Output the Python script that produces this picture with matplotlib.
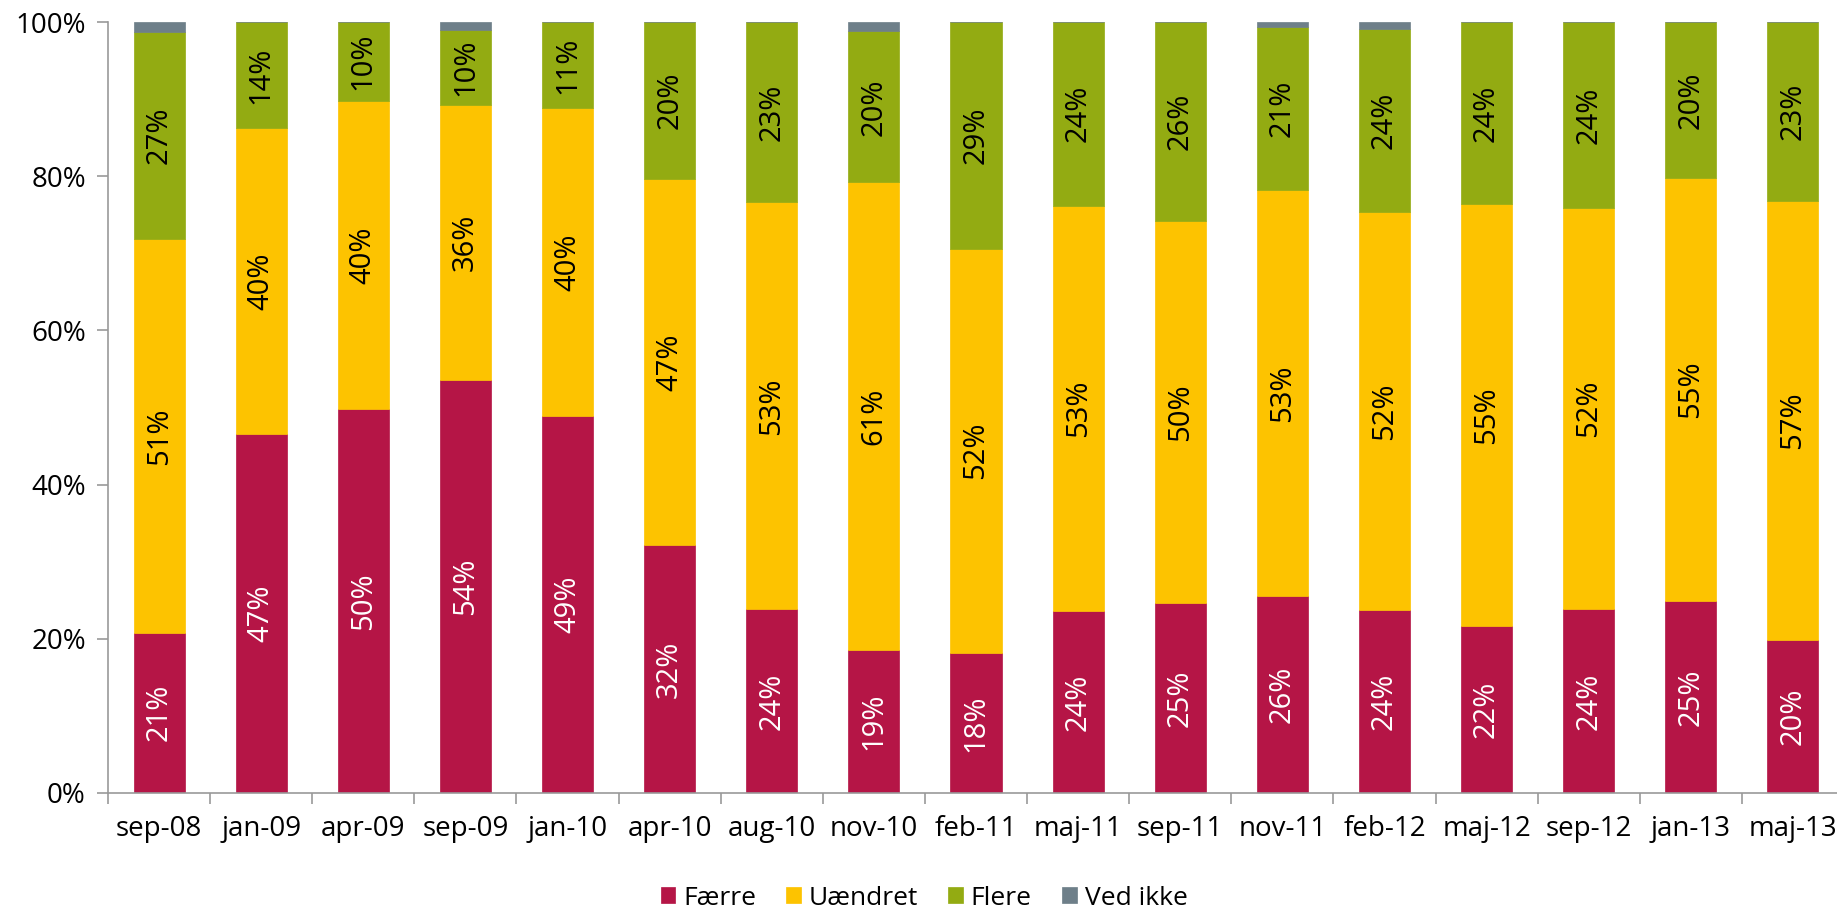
import matplotlib
matplotlib.use("Agg")
import matplotlib.pyplot as plt
import numpy as np

plt.rcParams['font.family'] = ['Open Sans', 'DejaVu Sans']

periods = ["sep-08", "jan-09", "apr-09", "sep-09", "jan-10", "apr-10", "aug-10", "nov-10", "feb-11",
           "maj-11", "sep-11", "nov-11", "feb-12", "maj-12", "sep-12", "jan-13", "maj-13"]
faerre   = [20.8, 46.6, 49.8, 53.6, 48.9, 32.2, 23.8, 18.6, 18.2, 23.6, 24.6, 25.6, 23.7, 21.6, 23.8, 24.9, 19.9]
uaendret = [51.0, 39.6, 39.9, 35.6, 39.9, 47.4, 52.8, 60.6, 52.4, 52.6, 49.6, 52.6, 51.6, 54.8, 52.1, 54.9, 56.9]
flere    = [26.9, 13.8, 10.3,  9.8, 11.2, 20.4, 23.4, 19.6, 29.4, 23.8, 25.8, 21.1, 23.8, 23.6, 24.1, 20.2, 23.2]
ved_ikke = [ 1.3,  0.0,  0.0,  1.0,  0.0,  0.0,  0.0,  1.2,  0.0,  0.0,  0.0,  0.7,  0.9,  0.0,  0.0,  0.0,  0.0]

series = [("Færre", faerre, "#b51546", "white"),
          ("Uændret", uaendret, "#fdc300", "black"),
          ("Flere", flere, "#93ab12", "black"),
          ("Ved ikke", ved_ikke, "#6e7f89", None)]

fig = plt.figure(figsize=(18.37, 9.10), dpi=100)
# right edge of the plot runs slightly past the image, as in the original
ax = fig.add_axes([0.0588, 0.1286, 0.9450, 0.8472])

x = np.arange(len(periods))
bottom = np.zeros(len(periods))
for name, vals, col, tcol in series:
    vals = np.array(vals)
    ax.bar(x, vals, 0.5, bottom=bottom, color=col, label=name, edgecolor=col, linewidth=0.5)
    if tcol is not None:
        for xi, b, v in zip(x, bottom, vals):
            ax.text(xi, b + v / 2, "%d%%" % round(v), rotation=90, ha="center", va="center",
                    color=tcol, fontsize=21)
    bottom += vals

ax.set_xlim(-0.5, len(periods) - 0.5)
ax.set_ylim(0, 100)
ax.set_yticks(np.arange(0, 101, 20))
ax.set_yticklabels(["%d%%" % v for v in range(0, 101, 20)], fontsize=20)
ax.set_xticks(x)
ax.set_xticklabels(periods, fontsize=20)
ax.set_xticks(np.arange(-0.5, len(periods), 1), minor=True)
ax.tick_params(axis="x", which="major", length=0, pad=16)
ax.tick_params(axis="x", which="minor", length=8, color="#999999", width=1.2)
ax.tick_params(axis="y", length=8, color="#999999", width=1.2, pad=8)

for s in ["top", "right"]:
    ax.spines[s].set_visible(False)
for s in ["left", "bottom"]:
    ax.spines[s].set_color("#999999")
    ax.spines[s].set_linewidth(1.2)

fig.legend(loc="center", ncol=4, frameon=False, fontsize=19, bbox_to_anchor=(0.503, 0.013),
           handlelength=0.55, handleheight=0.55, handletextpad=0.3, columnspacing=1.15,
           borderpad=0, borderaxespad=0)

fig.savefig("out.png", dpi=100)
